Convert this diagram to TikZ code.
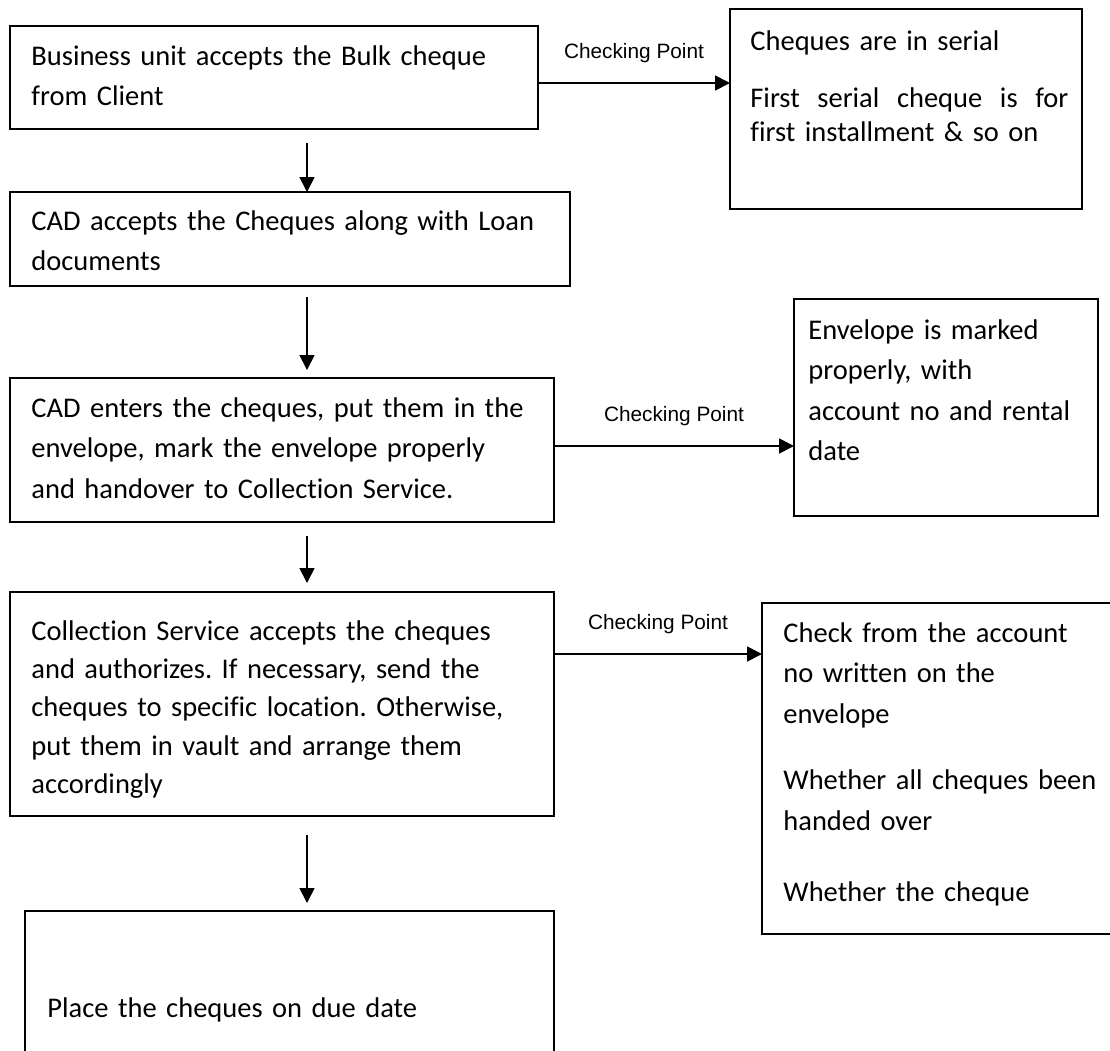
\documentclass[tikz,border=0pt]{standalone}
\usepackage{fontspec}
\setmainfont{Carlito}[Ligatures={NoCommon}]
\newfontfamily\labelfont{Liberation Sans}
\usetikzlibrary{arrows.meta,calc}
\frenchspacing

\begin{document}
\begin{tikzpicture}[
  x=0.5pt, y=-0.5pt,
  box/.style={draw, line width=1pt, inner sep=0pt, outer sep=0pt, anchor=north west},
  body/.style={inner sep=0pt, anchor=base west, align=left, text width=#1,
    font=\fontsize{14.25pt}{20.25pt}\selectfont},
  body/.default=265pt,
  flow/.style={line width=0.9pt, -{Triangle[length=7.5pt, width=7.5pt]}},
  chk/.style={font=\labelfont\fontsize{10.4pt}{12pt}\selectfont, inner sep=0pt},
]
\useasboundingbox (0,0) rectangle (1110,1051);
\clip (0,0) rectangle (1110,1051);

% ── main column ──────────────────
\node[box, minimum width=264pt, minimum height=51.5pt] (bu) at (10,26) {};
\node[body] (bu-t) at (31,65)
  {Business unit accepts the Bulk cheque\\from Client};

\node[box, minimum width=280pt, minimum height=47pt] (cad) at (10,192) {};
\node[body] (cad-t) at (31,230)
  {CAD accepts the Cheques along with Loan\\documents};

\node[box, minimum width=272pt, minimum height=72pt] (ent) at (10,378) {};
\node[body] (ent-t) at (31,417)
  {CAD enters the cheques, put them in the\\envelope, mark the envelope properly\\and handover to Collection Service.};

\node[box, minimum width=272pt, minimum height=112pt] (col) at (10,592) {};
\node[body, font=\fontsize{14.25pt}{19.2pt}\selectfont] (col-t) at (31,640)
  {Collection Service accepts the cheques\\and authorizes. If necessary, send the\\cheques to specific location. Otherwise,\\put them in vault and arrange them\\accordingly};

\node[box, minimum width=264.5pt, minimum height=97pt] (due) at (25,911) {};
\node[body] (due-t) at (47,1017) {Place the cheques on due date};

% ── checking points (right) ──────
\node[box, minimum width=176pt, minimum height=100pt] (ser) at (730,9) {};
\node[body=170pt, font=\fontsize{14.25pt}{17pt}\selectfont] (ser-t) at (750,50)
  {Cheques are in serial\\[11.5pt]\makebox[159pt][l]{First\hfill serial\hfill cheque\hfill is\hfill for}\\first installment \& so on};

\node[box, minimum width=152pt, minimum height=108.5pt] (env) at (794,299) {};
\node[body=150pt] (env-t) at (808,339)
  {Envelope is marked\\properly, with\\account no and rental\\date};

\node[box, minimum width=185pt, minimum height=165.5pt] (acc) at (762,603) {};
\node[body=170pt] (acc-t) at (783,642)
  {Check from the account\\no written on the\\envelope\\[13pt]Whether all cheques been\\handed over\\[15.5pt]Whether the cheque};

% ── connectors ───────────────────
\coordinate (spine) at (307,0);
\draw[flow] ($(bu.south -| spine)+(0,14)$) -- (cad.north -| spine);
\draw[flow] ($(cad.south -| spine)+(0,11)$) -- ($(ent.north -| spine)+(0,-8)$);
\draw[flow] ($(ent.south -| spine)+(0,14)$) -- ($(col.north -| spine)+(0,-9)$);
\draw[flow] ($(col.south -| spine)+(0,19)$) -- ($(due.north -| spine)+(0,-8)$);

\draw[flow] ([yshift=-2.75pt]bu.east) -- ([yshift=-2.75pt]bu.east -| ser.west)
  node[midway, above=9.5pt, chk] (cp1) {Checking Point};
\draw[flow] ([yshift=2pt]ent.east) -- ([yshift=2pt]ent.east -| env.west)
  node[midway, above=9.5pt, chk] (cp2) {Checking Point};
\draw[flow] ([yshift=25pt]col.east) -- ([yshift=25pt]col.east -| acc.west)
  node[midway, above=9.5pt, chk] (cp3) {Checking Point};

\end{tikzpicture}
\end{document}
